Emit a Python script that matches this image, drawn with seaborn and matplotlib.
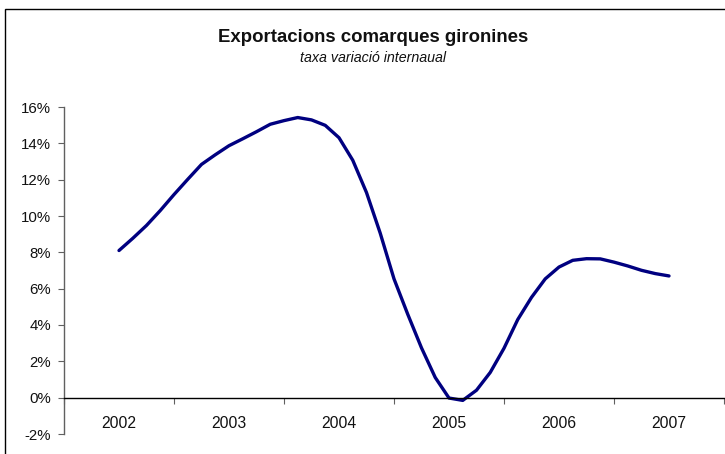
import matplotlib
matplotlib.use("Agg")
import matplotlib.pyplot as plt
import seaborn as sns
import pandas as pd
import numpy as np
from matplotlib.patches import Rectangle
from matplotlib.ticker import FixedLocator, FuncFormatter

years = [2002, 2003, 2004, 2005, 2006, 2007]
rate = [8.1, 8.77, 9.48, 10.30, 11.18, 12.02, 12.84, 13.37, 13.87, 14.25,
        14.64, 15.05, 15.25, 15.42, 15.29, 14.99, 14.31, 13.07, 11.29, 9.05,
        6.54, 4.59, 2.74, 1.11, -0.02, -0.15, 0.41, 1.39, 2.72, 4.30,
        5.52, 6.54, 7.19, 7.56, 7.65, 7.64, 7.46, 7.25, 7.01, 6.83, 6.70]
period = [2002 + i * (5 / (len(rate) - 1)) for i in range(len(rate))]
yticks = [-2, 0, 2, 4, 6, 8, 10, 12, 14, 16]

df = pd.DataFrame({"period": period, "rate": rate})

sns.set_style("white")
plt.rcParams["font.family"] = ["Liberation Sans", "DejaVu Sans"]

W, H = 725, 454
fig = plt.figure(figsize=(W / 100, H / 100), dpi=100)
ax = fig.add_axes([64 / W, 1 - 434 / H, 660 / W, (434 - 107) / H])

sns.lineplot(data=df, x="period", y="rate", ax=ax, color="#000080",
             linewidth=2.4, estimator=None, sort=False)

ax.set_xlim(years[0] - 0.5, years[-1] + 0.5)
ax.set_ylim(yticks[0], yticks[-1])
ax.set_xlabel("")
ax.set_ylabel("")

# y axis
ax.yaxis.set_major_locator(FixedLocator(yticks))
ax.yaxis.set_major_formatter(FuncFormatter(lambda v, p: f"{int(round(v))}%"))
ax.tick_params(axis="y", which="major", direction="out", length=4.5, width=0.8,
               color="#606060", pad=5, labelsize=10.8, left=True, labelcolor="#111111")

# x axis: bottom spine at 0, ticks between categories
ax.spines["bottom"].set_position(("data", 0))
ax.spines["bottom"].set_color("black")
ax.spines["bottom"].set_linewidth(1.0)
ax.spines["left"].set_color("#606060")
ax.spines["left"].set_linewidth(1.0)
for s in ("top", "right"):
    ax.spines[s].set_visible(False)

bounds = [y - 0.5 for y in years] + [years[-1] + 0.5]
ax.xaxis.set_major_locator(FixedLocator(bounds))
ax.xaxis.set_major_formatter(FuncFormatter(lambda v, p: ""))
ax.xaxis.set_minor_locator(FixedLocator(years))
ax.xaxis.set_minor_formatter(FuncFormatter(lambda v, p: f"{int(round(v))}"))
ax.tick_params(axis="x", which="major", direction="out", length=4, width=0.8,
               color="#606060", bottom=True)
ax.tick_params(axis="x", which="minor", length=0, pad=13, labelsize=11.3,
               bottom=True, labelcolor="#111111")
ax.grid(False)

# titles
fig.text(373 / W, 1 - 38 / H, "Exportacions comarques gironines", ha="center",
         va="center", fontsize=13.4, fontweight="bold", color="#111111")
fig.text(373 / W, 1 - 58 / H, "taxa variació internaual", ha="center",
         va="center", fontsize=10.3, style="italic", color="#111111")

# chart-area frame (left and top edges visible)
fig.add_artist(Rectangle((5 / W, -0.5), 2.0, 0.5 + (1 - 9 / H), transform=fig.transFigure,
                         fill=False, edgecolor="black", linewidth=1.0))

fig.savefig("out.png", dpi=100)
